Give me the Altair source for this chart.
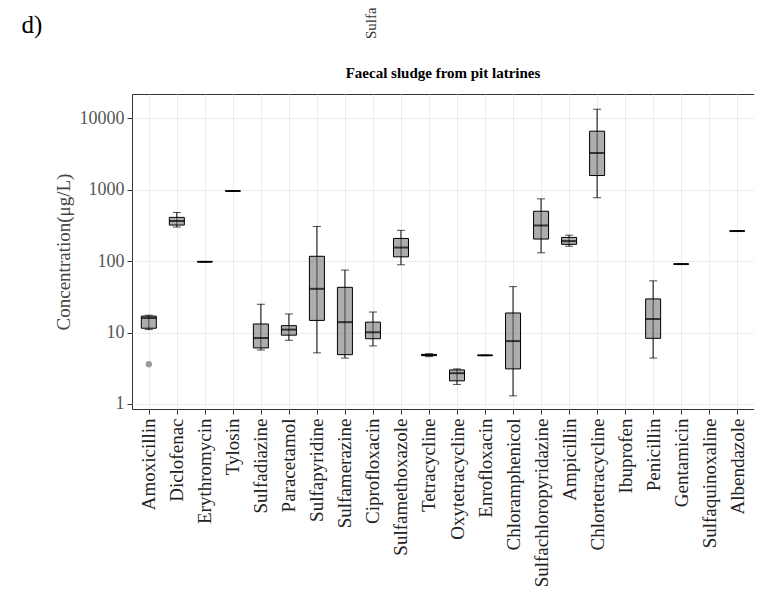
import altair as alt
import pandas as pd

drugs = ["Amoxicillin", "Diclofenac", "Erythromycin", "Tylosin", "Sulfadiazine",
         "Paracetamol", "Sulfapyridine", "Sulfamerazine", "Ciprofloxacin",
         "Sulfamethoxazole", "Tetracycline", "Oxytetracycline", "Enrofloxacin",
         "Chloramphenicol", "Sulfachloropyridazine", "Ampicillin", "Chlortetracycline",
         "Ibuprofen", "Penicillin", "Gentamicin", "Sulfaquinoxaline", "Albendazole"]

lower  = [11.0, 300, 97, 950, 5.7, 7.8, 5.2, 4.4, 6.5, 89, 4.6, 1.88, 4.75, 1.3, 131, 162, 774, None, 4.4, 90, None, 262]
q1     = [11.5, 320, 97.5, 955, 6.1, 9.2, 14.8, 4.9, 8.2, 115, 4.75, 2.11, 4.78, 3.1, 204, 172, 1580, None, 8.3, 90.5, None, 263]
median = [16.0, 365, 98, 960, 8.4, 11.0, 41, 14, 10.1, 155, 4.85, 2.7, 4.8, 7.6, 316, 191, 3270, None, 15.5, 91, None, 264]
q3     = [17.0, 410, 98.5, 965, 13.2, 12.5, 117, 43, 14, 208, 4.95, 3.0, 4.82, 18.8, 500, 215, 6600, None, 29.6, 91.5, None, 265]
upper  = [17.5, 480, 99, 970, 25, 18.2, 306, 75, 19.4, 270, 5.05, 3.1, 4.85, 44, 745, 231, 13400, None, 53, 92, None, 266]

outlier_drugs = ["Amoxicillin"]
outlier_values = [3.6]

title_text = ["Faecal sludge from pit latrines"]
panel_label = ["d)"]
fragment_label = ["Sulfa"]

df = pd.DataFrame({"drug": drugs, "lower": lower, "q1": q1, "median": median,
                   "q3": q3, "upper": upper})
out_df = pd.DataFrame({"drug": outlier_drugs, "value": outlier_values})

SERIF = "Liberation Serif"

xenc = alt.X("drug:N", sort=drugs,
             scale=alt.Scale(type="point", domain=drugs, padding=0.6),
             axis=alt.Axis(title=None, labelAngle=-90, labelFontSize=19,
                           labelColor="#222222", labelPadding=4, tickSize=5,
                           grid=True, gridColor="#ececec", domain=False,
                           tickColor="#333333"))
yscale = alt.Scale(type="log", domain=[0.851, 21900], nice=False)
yaxis = alt.Axis(title="Concentration(μg/L)", values=[1, 10, 100, 1000, 10000],
                 format="d", labelFontSize=18, labelColor="#555555",
                 titleFontSize=19, titleFontWeight="normal", titleColor="#444444",
                 titlePadding=6, tickSize=5, grid=True, gridColor="#ececec",
                 domain=False, tickColor="#333333", labelPadding=3)

base = alt.Chart(df).transform_filter("isValid(datum.median)")

whisk = base.mark_rule(color="black", strokeWidth=1).encode(
    x=xenc, y=alt.Y("lower:Q", scale=yscale, axis=yaxis), y2="upper:Q")
cap_lo = base.mark_tick(color="black", size=8, thickness=1).encode(
    x=alt.X("drug:N", sort=drugs), y=alt.Y("lower:Q"))
cap_hi = base.mark_tick(color="black", size=8, thickness=1).encode(
    x=alt.X("drug:N", sort=drugs), y=alt.Y("upper:Q"))
box = base.mark_bar(size=15, fill="#777777", fillOpacity=0.6, stroke="black",
                    strokeWidth=1).encode(
    x=alt.X("drug:N", sort=drugs), y=alt.Y("q1:Q"), y2="q3:Q")
med = base.mark_tick(color="black", size=15, thickness=2).encode(
    x=alt.X("drug:N", sort=drugs), y=alt.Y("median:Q"))
outl = alt.Chart(out_df).mark_point(filled=True, color="#999999", size=40,
                                    opacity=1).encode(
    x=alt.X("drug:N", sort=drugs), y=alt.Y("value:Q"))

ttl = alt.Chart(pd.DataFrame({"t": title_text})).mark_text(
    font=SERIF, fontSize=15, fontWeight="bold", color="black",
    align="center", baseline="middle").encode(
    text="t:N", x=alt.value(311), y=alt.value(-21))
dlab = alt.Chart(pd.DataFrame({"t": panel_label})).mark_text(
    font=SERIF, fontSize=25, color="black",
    align="center", baseline="middle").encode(
    text="t:N", x=alt.value(-100), y=alt.value(-69))
frag = alt.Chart(pd.DataFrame({"t": fragment_label})).mark_text(
    font=SERIF, fontSize=15, color="#333333", angle=270, align="left",
    baseline="middle").encode(
    text="t:N", x=alt.value(239), y=alt.value(-55))

chart = alt.layer(whisk, cap_lo, cap_hi, box, med, outl, ttl, dlab, frag).properties(
    width=622, height=315,
    padding={"left": 124, "top": 86, "right": 0, "bottom": 180},
    autosize="none",
).configure_view(stroke="#333333", strokeWidth=1).configure_axis(
    labelFont=SERIF, titleFont=SERIF)

chart.save("out.html", embed_options={"renderer": "svg", "actions": False})
